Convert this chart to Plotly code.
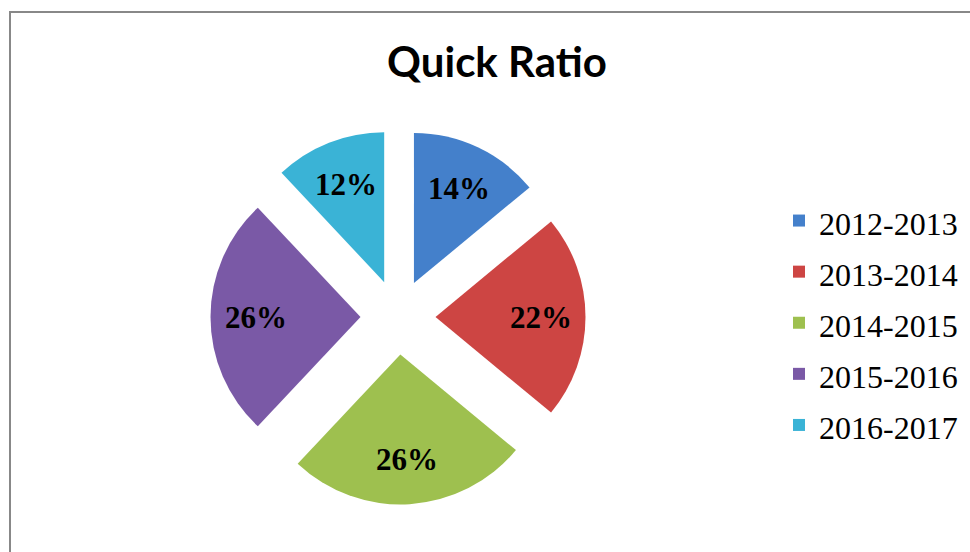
import math
import plotly.graph_objects as go

# Quick ratio share by financial year
years = ["2012-2013", "2013-2014", "2014-2015", "2015-2016", "2016-2017"]
shares = [14, 22, 26, 26, 12]
colors = ["#4480CB", "#CD4543", "#9EC04F", "#7A59A6", "#3AB3D6"]

W, H = 970, 552
cx, cy, size = 398, 317, 375  # pie centre and full extent incl. pull, in px
pull = 0.25
radius = size / (2 * (1 + pull))
label_dist = 0.70  # label centre, as a fraction of the radius from the slice tip

fig = go.Figure(
    go.Pie(
        labels=[f"<span style='font-size:32px'>{y}</span>" for y in years],
        values=shares,
        sort=False,
        direction="clockwise",
        rotation=0,
        pull=[pull] * len(shares),
        marker=dict(colors=colors, line=dict(width=0)),
        textinfo="none",
        domain=dict(
            x=[(cx - size / 2) / W, (cx + size / 2) / W],
            y=[1 - (cy + size / 2) / H, 1 - (cy - size / 2) / H],
        ),
        hoverinfo="percent",
    )
)

# percentage labels placed along each slice's mid angle
total = sum(shares)
annotations = []
start = 0.0
for v in shares:
    frac = v / total
    mid = (start + frac / 2) * 2 * math.pi
    start += frac
    d = radius * (pull + label_dist)
    px = cx + d * math.sin(mid)
    py = cy - d * math.cos(mid)
    annotations.append(
        dict(
            x=px / W,
            y=1 - py / H,
            xref="paper",
            yref="paper",
            text=f"<b>{round(frac * 100)}%</b>",
            showarrow=False,
            xanchor="center",
            yanchor="middle",
            font=dict(family="Liberation Serif", size=31, color="black"),
        )
    )

fig.update_layout(
    width=W,
    height=H,
    margin=dict(l=0, r=0, t=0, b=0),
    paper_bgcolor="white",
    title=dict(
        text="<b>Quick Ratio</b>",
        x=497 / W,
        y=1 - 62 / H,
        xanchor="center",
        yanchor="middle",
        font=dict(family="Lato", size=42, color="black"),
    ),
    legend=dict(
        x=779 / W,
        y=1 - 190 / H,
        xanchor="left",
        yanchor="top",
        font=dict(family="Liberation Serif", size=37, color="black"),
        itemwidth=30,
        bgcolor="rgba(0,0,0,0)",
    ),
    annotations=annotations,
    shapes=[
        dict(
            type="rect",
            xref="paper",
            yref="paper",
            x0=10 / W,
            x1=1.02,
            y0=-0.02,
            y1=1 - 12 / H,
            line=dict(color="#888888", width=2),
            layer="below",
        )
    ],
)

fig.write_html("out.html")
